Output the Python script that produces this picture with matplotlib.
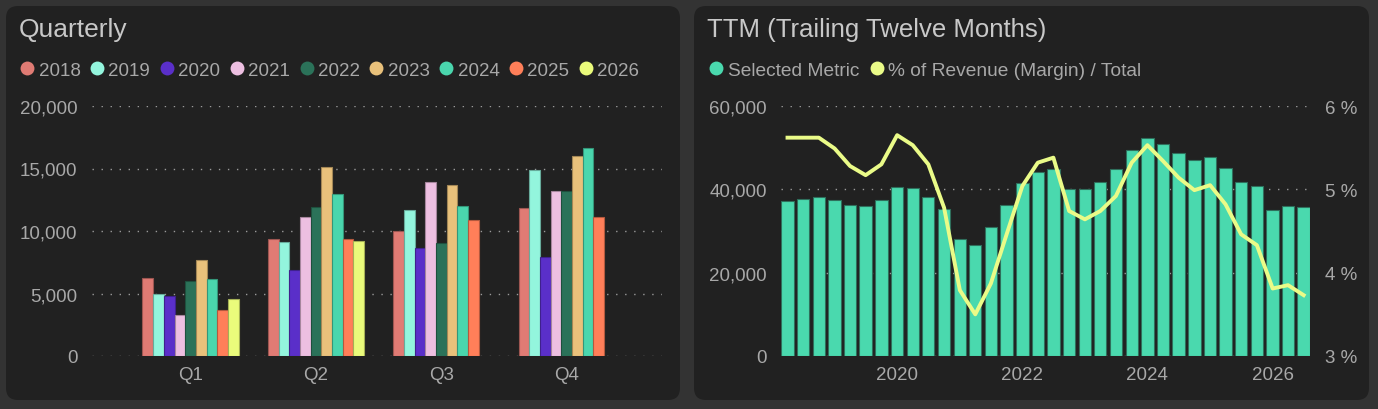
import matplotlib
matplotlib.use("Agg")
import matplotlib.pyplot as plt
import matplotlib.dates as mdates
import numpy as np
import pandas as pd
from matplotlib.lines import Line2D
from matplotlib.patches import FancyBboxPatch
from matplotlib.ticker import FuncFormatter, MultipleLocator

# quarterly values per year (Q1..Q4), nan = not reported yet
quarters = ["Q1", "Q2", "Q3", "Q4"]
years = ["2018", "2019", "2020", "2021", "2022", "2023", "2024", "2025", "2026"]
q_2018 = [6250, 9400, 10030, 11840]
q_2019 = [4970, 9100, 11650, 14920]
q_2020 = [4790, 6890, 8640, 7930]
q_2021 = [3250, 11090, 13940, 13170]
q_2022 = [6040, 11890, 9020, 13170]
q_2023 = [7660, 15130, 13650, 16040]
q_2024 = [6140, 12930, 12000, 16680]
q_2025 = [3700, 9400, 10900, 11090]
q_2026 = [4600, 9200, np.nan, np.nan]
year_colors = ["#E07B74", "#93F5DD", "#5A2FC9", "#EDBFE1", "#2B7259",
               "#E9C17B", "#4AD6AD", "#FF7F59", "#EAFB7B"]

# trailing twelve months, one bar per quarter starting 2018 Q2
ttm_start = "2018-04-01"
ttm_values = [37180, 37740, 38060, 37500, 36220, 35900, 37500, 40530, 40370,
              38140, 35190, 28160, 26570, 30880, 36140, 41410, 44200, 45000,
              40050, 40050, 41730, 45000, 49550, 52420, 50900, 48670, 47070,
              47710, 45240, 41730, 40690, 35100, 35900, 35660]
margin_pct = [5.62, 5.62, 5.62, 5.49, 5.28, 5.17, 5.30, 5.65, 5.53, 5.30,
              4.78, 3.79, 3.50, 3.87, 4.46, 5.04, 5.32, 5.38, 4.74, 4.64,
              4.74, 4.92, 5.32, 5.53, 5.34, 5.14, 4.99, 5.05, 4.82, 4.46,
              4.33, 3.81, 3.85, 3.73]

OUTER_BG = "#333333"
PANEL_BG = "#212121"
TITLE_COLOR = "#c8c8c8"
TEXT_COLOR = "#a8a8a8"
GRID_COLOR = "#9a9a9a"
TTM_COLOR = "#4AD9AE"
LINE_COLOR = "#EAFB88"

plt.rcParams["font.family"] = ["Liberation Sans", "DejaVu Sans"]

fig = plt.figure(figsize=(13.78, 4.10), dpi=100)
fig.patch.set_facecolor(OUTER_BG)

# rounded panels, drawn in pixel coordinates
for x0, w in [(6, 674), (694, 675)]:
    panel = FancyBboxPatch((x0, 9), w, 394, boxstyle="round,pad=0,rounding_size=12",
                           transform=None, facecolor=PANEL_BG, edgecolor="none", zorder=0)
    fig.add_artist(panel)

fig.text(19 / 1378, 1 - 30 / 410, "Quarterly", color=TITLE_COLOR, fontsize=19,
         ha="left", va="center")
fig.text(707 / 1378, 1 - 30 / 410, "TTM (Trailing Twelve Months)", color=TITLE_COLOR,
         fontsize=18.5, ha="left", va="center")


def style_axis(ax):
    ax.set_facecolor("none")
    for s in ax.spines.values():
        s.set_visible(False)
    ax.tick_params(length=0, labelsize=13.5, labelcolor=TEXT_COLOR)
    ax.tick_params(axis="y", pad=10)
    ax.tick_params(axis="x", pad=7)


def darker(c, f=0.7):
    r, g, b = matplotlib.colors.to_rgb(c)
    return (r * f, g * f, b * f)


# ---- Quarterly ----
ax1 = fig.add_axes([91.5 / 1378, 1 - 357 / 410, 570.5 / 1378, 250 / 410])
style_axis(ax1)
series = [q_2018, q_2019, q_2020, q_2021, q_2022, q_2023, q_2024, q_2025, q_2026]
x = np.arange(len(quarters))
bw = 0.0852
n = len(series)
for i, (vals, col) in enumerate(zip(series, year_colors)):
    ax1.bar(x + (i - (n - 1) / 2) * bw, vals, width=bw, color=col,
            edgecolor=darker(col), linewidth=0.8, zorder=3)
ax1.set_xticks(x)
ax1.set_xticklabels(quarters)
ax1.set_xlim(-0.79, 3.76)
ax1.set_ylim(0, 20000)
ax1.yaxis.set_major_locator(MultipleLocator(5000))
ax1.yaxis.set_major_formatter(FuncFormatter(lambda v, p: f"{v:,.0f}"))
ax1.grid(axis="y", color=GRID_COLOR, linestyle=(0, (1, 5.5)), linewidth=1.0, zorder=0)
ax1.set_axisbelow(True)

handles = [Line2D([], [], marker="o", linestyle="none", markersize=10,
                  markerfacecolor=c, markeredgecolor="none") for c in year_colors]
fig.legend(handles, years, loc="center left", bbox_to_anchor=(19.8 / 1378, 1 - 71 / 410),
           ncol=len(years), frameon=False, fontsize=13.5, labelcolor=TEXT_COLOR,
           handlelength=0.8, handletextpad=0.2, columnspacing=0.49,
           borderpad=0, borderaxespad=0)

# ---- TTM ----
ax2 = fig.add_axes([781 / 1378, 1 - 357 / 410, 529 / 1378, 250 / 410])
style_axis(ax2)
dates = pd.date_range(ttm_start, periods=len(ttm_values), freq="QS")
ax2.bar(dates, ttm_values, width=72, color=TTM_COLOR, edgecolor="#2f6f5c",
        linewidth=0.8, zorder=3)
ax2.set_xlim(dates[0] - pd.Timedelta(days=38), dates[-1] + pd.Timedelta(days=37))
ax2.set_ylim(0, 60000)
ax2.yaxis.set_major_locator(MultipleLocator(20000))
ax2.yaxis.set_major_formatter(FuncFormatter(lambda v, p: f"{v:,.0f}"))
ax2.xaxis.set_major_locator(mdates.YearLocator(2))
ax2.xaxis.set_major_formatter(mdates.DateFormatter("%Y"))
ax2.grid(axis="y", color=GRID_COLOR, linestyle=(0, (1, 5.5)), linewidth=1.0, zorder=0)
ax2.set_axisbelow(True)

ax3 = ax2.twinx()
style_axis(ax3)
ax3.plot(dates, margin_pct, color=LINE_COLOR, linewidth=2.8, zorder=5)
ax3.set_ylim(3, 6)
ax3.yaxis.set_major_locator(MultipleLocator(1))
ax3.yaxis.set_major_formatter(FuncFormatter(lambda v, p: f"{v:.0f} %"))
ax3.tick_params(axis="y", pad=11)

handles2 = [Line2D([], [], marker="o", linestyle="none", markersize=10,
                   markerfacecolor=TTM_COLOR, markeredgecolor="none"),
            Line2D([], [], marker="o", linestyle="none", markersize=10,
                   markerfacecolor=LINE_COLOR, markeredgecolor="none")]
fig.legend(handles2, ["Selected Metric", "% of Revenue (Margin) / Total"],
           loc="center left", bbox_to_anchor=(708.8 / 1378, 1 - 71 / 410), ncol=2,
           frameon=False, fontsize=13.8, labelcolor=TEXT_COLOR, handlelength=0.8,
           handletextpad=0.2, columnspacing=0.5, borderpad=0, borderaxespad=0)

fig.savefig("out.png", dpi=100, facecolor=fig.get_facecolor())
